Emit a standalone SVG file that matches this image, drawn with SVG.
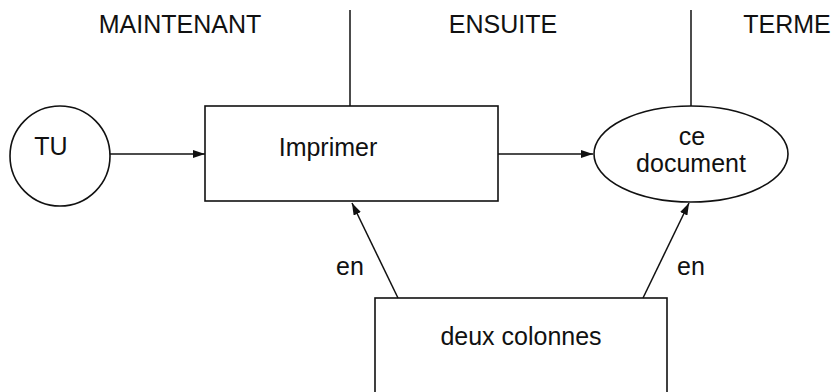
<svg xmlns="http://www.w3.org/2000/svg" width="834" height="392" viewBox="0 0 834 392">
<style>
text{font-family:"Liberation Sans",Arial,sans-serif;font-size:25px;fill:#111;text-anchor:middle}
.s{fill:none;stroke:#111;stroke-width:1.6}
.c{fill:none;stroke:#111;stroke-width:1.5}
</style>
<defs>
<marker id="ah" markerUnits="userSpaceOnUse" markerWidth="13" markerHeight="8" refX="12" refY="4" orient="auto">
<path d="M0,0 L12,4 L0,8 z" fill="#111"/>
</marker>
</defs>
<rect width="834" height="392" fill="#fff"/>
<g id="headers">
<text x="180" y="33">MAINTENANT</text>
<text x="503" y="33">ENSUITE</text>
<text x="787" y="33">TERME</text>
</g>
<g id="dividers">
<line class="c" x1="350" y1="10" x2="350" y2="106"/>
<line class="c" x1="691" y1="10" x2="691" y2="106"/>
</g>
<g id="connectors">
<line class="c" x1="110" y1="154" x2="205" y2="154" marker-end="url(#ah)"/>
<line class="c" x1="498" y1="154" x2="593" y2="154" marker-end="url(#ah)"/>
<line class="c" x1="398" y1="298" x2="352" y2="203" marker-end="url(#ah)"/>
<line class="c" x1="643" y1="298" x2="689" y2="203" marker-end="url(#ah)"/>
<text x="350" y="275">en</text>
<text x="691" y="275">en</text>
</g>
<g id="tu">
<circle class="s" cx="60" cy="156" r="50"/>
<text x="51" y="155">TU</text>
</g>
<g id="imprimer">
<rect class="s" x="205" y="106" width="293" height="95"/>
<text x="328" y="156">Imprimer</text>
</g>
<g id="document">
<ellipse class="s" cx="691" cy="154" rx="97" ry="48"/>
<text x="692" y="145">ce</text>
<text x="691" y="172">document</text>
</g>
<g id="colonnes">
<rect class="s" x="375" y="298" width="292" height="110"/>
<text x="521" y="345">deux colonnes</text>
</g>
</svg>
